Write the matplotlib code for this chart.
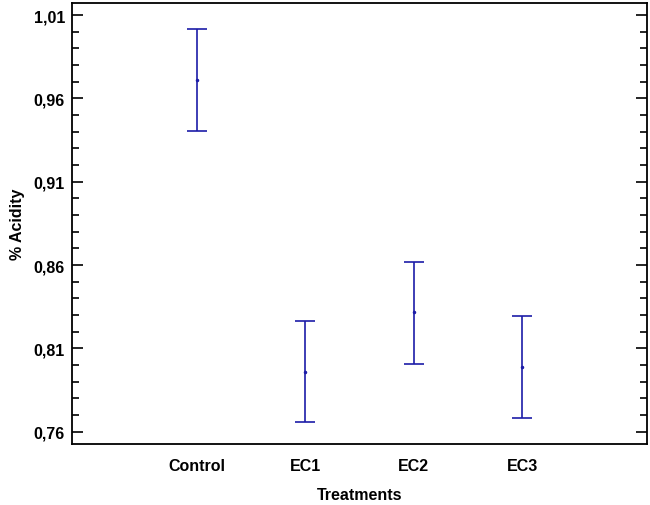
import numpy as np
import matplotlib
matplotlib.use("Agg")
import matplotlib.pyplot as plt
from matplotlib.ticker import FuncFormatter, MultipleLocator

# medias e intervalos
treatments = ["Control", "EC1", "EC2", "EC3"]
means = [0.9708, 0.7959, 0.8316, 0.7986]
lower = [0.9406, 0.7655, 0.8005, 0.7681]
upper = [1.0016, 0.8265, 0.8616, 0.8292]

plt.rcParams['font.family'] = ['Liberation Sans', 'DejaVu Sans']

fig = plt.figure(figsize=(6.5, 5.06), dpi=100)
ax = fig.add_axes([0.1108, 0.1206, 0.8846, 0.8714])

x = np.arange(len(treatments))
m = np.array(means)
err = np.vstack([m - np.array(lower), np.array(upper) - m])
ax.errorbar(x, m, yerr=err, fmt='o', ms=1.5, color='#1c1ca8', ecolor='#1c1ca8',
            elinewidth=1.2, capsize=7.5, capthick=1.2)

ax.set_xlim(-1.15, 4.15)
ax.set_ylim(0.7526, 1.0172)
ax.set_xticks(x)
ax.set_xticklabels(treatments, fontsize=11.5, fontweight='bold')
ax.tick_params(axis='x', length=0, pad=10)

ax.set_yticks([0.76, 0.81, 0.86, 0.91, 0.96, 1.01])
ax.yaxis.set_minor_locator(MultipleLocator(0.01))
ax.yaxis.set_major_formatter(FuncFormatter(lambda v, p: f"{v:.2f}".replace('.', ',')))
ax.tick_params(axis='y', which='major', direction='in', length=8, width=1.2,
               right=True, labelsize=11.5, pad=5)
ax.tick_params(axis='y', which='minor', direction='in', length=5, width=1.2, right=True)
for lbl in ax.get_yticklabels():
    lbl.set_fontweight('bold')

for s in ax.spines.values():
    s.set_linewidth(1.3)

ax.set_xlabel("Treatments", fontsize=11.5, fontweight='bold', labelpad=10)
ax.set_ylabel("% Acidity", fontsize=11.5, fontweight='bold', labelpad=6)

fig.savefig("out.png", dpi=100)
